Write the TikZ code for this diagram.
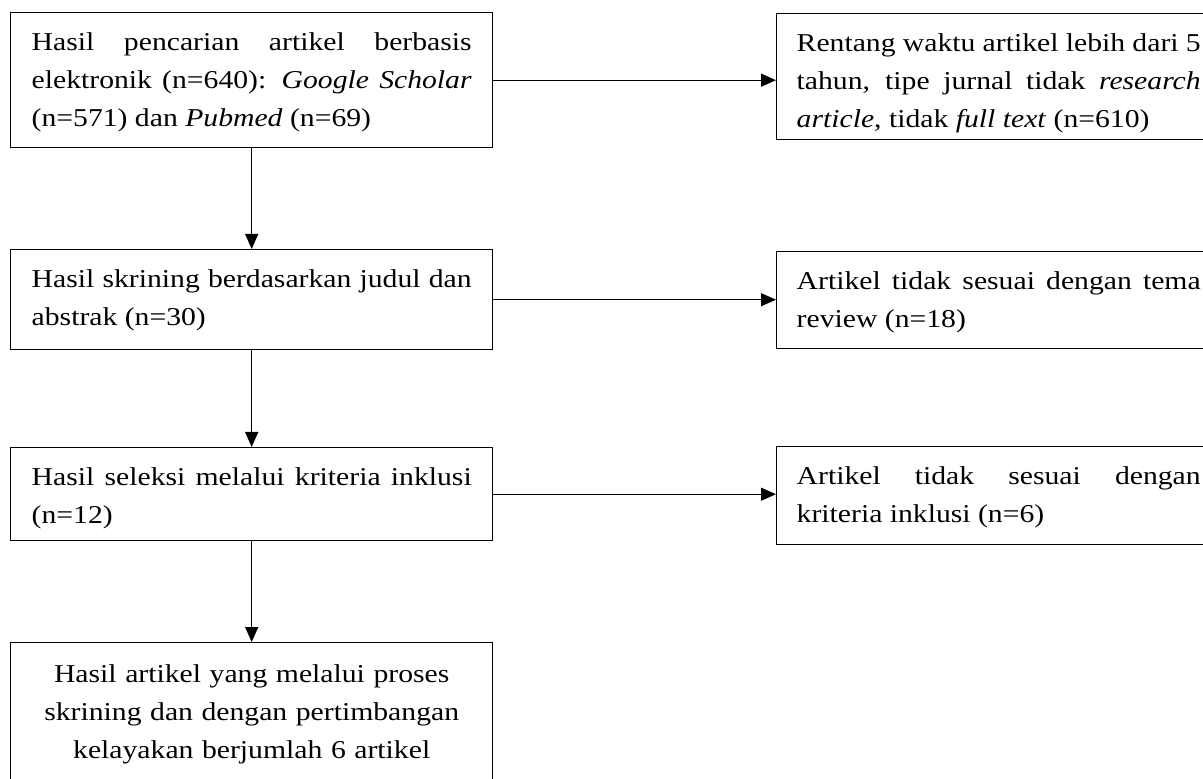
\documentclass[tikz,border=0pt]{standalone}
\usepackage{fontspec}
\setmainfont{Liberation Serif}[FakeStretch=1.155]
\usetikzlibrary{arrows.meta}

\begin{document}
\begin{tikzpicture}[x=0.5pt, y=-0.5pt]
   \tikzset{EdgeStyle/.style={-{Triangle[length=7.5pt,width=6.5pt]}, line width=0.6pt}}
   \tikzset{BoxStyle/.style={draw, line width=0.7pt, anchor=north west, inner xsep=10.5pt, inner ysep=0pt,
      text width=220pt, align=justify, text height=19pt, font=\fontsize{12.85pt}{19pt}\selectfont}}
   \tikzset{SideStyle/.style={BoxStyle, inner xsep=10pt, text width=202pt}}
   \useasboundingbox (0,0) rectangle (1203,779);
   \clip (0,0) rectangle (1203,779);
   % left column
   \node[BoxStyle, text depth=48.5pt] (hasil) at (10,12)
      {Hasil pencarian artikel berbasis\linebreak elektronik (n=640): \textit{Google Scholar}\linebreak (n=571) dan \textit{Pubmed} (n=69)};
   \node[BoxStyle, text depth=31pt] (skrining) at (10,249)
      {Hasil skrining berdasarkan judul dan\linebreak abstrak (n=30)};
   \node[BoxStyle, text depth=27.5pt] (seleksi) at (10,447)
      {Hasil seleksi melalui kriteria inklusi\linebreak (n=12)};
   \node[BoxStyle, align=center, text height=20pt, text depth=50pt] (akhir) at (10,642)
      {Hasil artikel yang melalui proses\\ skrining dan dengan pertimbangan\\ kelayakan berjumlah 6 artikel};
   % right column
   \node[SideStyle, text depth=44pt] (rentang) at (776,13)
      {Rentang waktu artikel lebih dari 5\linebreak tahun, tipe jurnal tidak \textit{research}\linebreak \textit{article}, tidak \textit{full text} (n=610)};
   \node[SideStyle, text depth=29.5pt] (tema) at (776,251)
      {Artikel tidak sesuai dengan tema\linebreak review (n=18)};
   \node[SideStyle, text depth=30pt] (inklusi) at (776,446)
      {Artikel tidak sesuai dengan\linebreak kriteria inklusi (n=6)};
   % arrows
   \draw[EdgeStyle] (hasil.east) -- (hasil.east -| rentang.west);
   \draw[EdgeStyle] (skrining.east) -- (skrining.east -| tema.west);
   \draw[EdgeStyle] (seleksi.east) -- (seleksi.east -| inklusi.west);
   \draw[EdgeStyle] (hasil.south) -- (hasil.south |- skrining.north);
   \draw[EdgeStyle] (skrining.south) -- (skrining.south |- seleksi.north);
   \draw[EdgeStyle] (seleksi.south) -- (seleksi.south |- akhir.north);
\end{tikzpicture}
\end{document}
